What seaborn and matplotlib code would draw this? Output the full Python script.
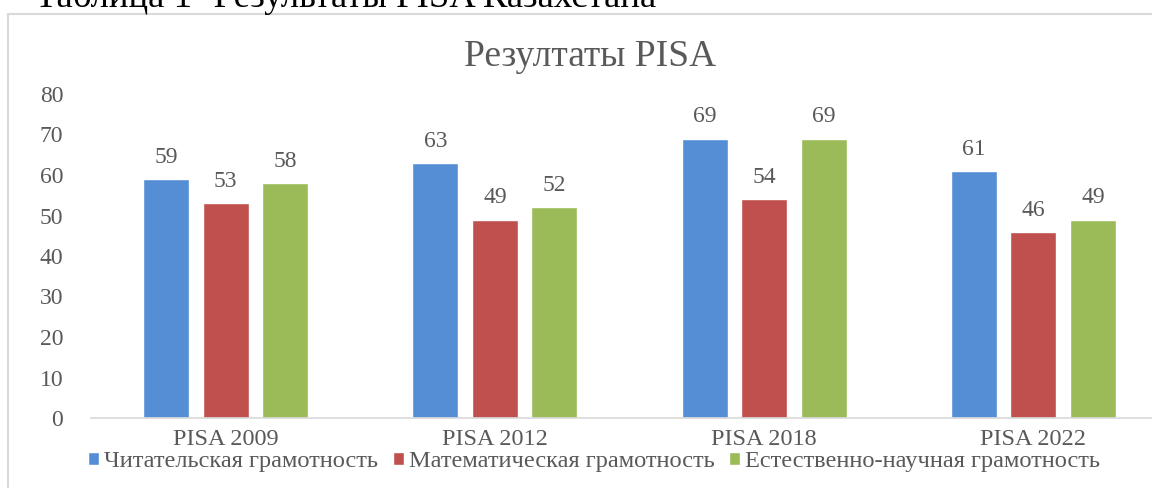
import pandas as pd
import seaborn as sns
import matplotlib.pyplot as plt
from matplotlib.patches import Rectangle

# chart data
years = ["PISA 2009", "PISA 2012", "PISA 2018", "PISA 2022"]
series = ["Читательская грамотность", "Математическая грамотность", "Естественно-научная грамотность"]
reading = [59, 63, 69, 61]
math = [53, 49, 54, 46]
science = [58, 52, 69, 49]
colors = ["#558ED5", "#C0504D", "#9BBB59"]

# long format table for seaborn
rows = []
for name, vals in zip(series, [reading, math, science]):
    for y, v in zip(years, vals):
        rows.append((y, name, v))
df = pd.DataFrame(rows, columns=["Год", "Показатель", "Балл"])

sns.set_style("white")
plt.rcParams["font.family"] = ["Liberation Serif", "DejaVu Serif"]
text_color = "#595959"

fig = plt.figure(figsize=(11.52, 4.88), dpi=100)
ax = fig.add_axes([91 / 1152, 1 - 418 / 488, 1077 / 1152, 324 / 488])

sns.barplot(data=df, x="Год", y="Балл", hue="Показатель", palette=colors,
            width=0.663, gap=0.226, ax=ax, saturation=1, legend=True)

for cont in ax.containers:
    ax.bar_label(cont, fontsize=17, color=text_color, padding=8)

ax.set_ylim(0, 80)
ax.set_yticks(range(0, 81, 10))
ax.set_xlim(-0.5, 3.5)
ax.set_xlabel("")
ax.set_ylabel("")
ax.tick_params(axis="y", labelsize=17, colors=text_color, length=0, pad=20)
ax.tick_params(axis="x", labelsize=17.5, colors=text_color, length=0, pad=8)
for side in ["top", "right", "left"]:
    ax.spines[side].set_visible(False)
ax.spines["bottom"].set_color("#D9D9D9")
ax.spines["bottom"].set_linewidth(1.2)
ax.spines["bottom"].set_clip_on(False)

# legend under the axis
handles, labels = ax.get_legend_handles_labels()
ax.legend_.remove()
leg = fig.legend(handles, labels, loc="center", bbox_to_anchor=(594 / 1152, 1 - 462 / 488),
                 ncol=3, frameon=False, fontsize=17.6, handlelength=0.45, handleheight=0.45,
                 handletextpad=0.2, columnspacing=0.6, borderpad=0)
for t in leg.get_texts():
    t.set_color(text_color)

# chart title
fig.text(590 / 1152, 1 - 57 / 488, "Резултаты PISA", ha="center", va="center",
         fontsize=27, color=text_color)

# caption of the table, cut off at the top
fig.text(35 / 1152, 1 - 7 / 488, "Таблица 1- Результаты PISA Казахстана", ha="left",
         va="baseline", fontsize=26.5, color="black")

# chart area frame
fig.patches.append(Rectangle((8 / 1152, -0.2), 1.2, 1.2 - 14 / 488,
                             transform=fig.transFigure, fill=False,
                             edgecolor="#D9D9D9", linewidth=1.5, zorder=0))

plt.savefig("out.png", dpi=100)
